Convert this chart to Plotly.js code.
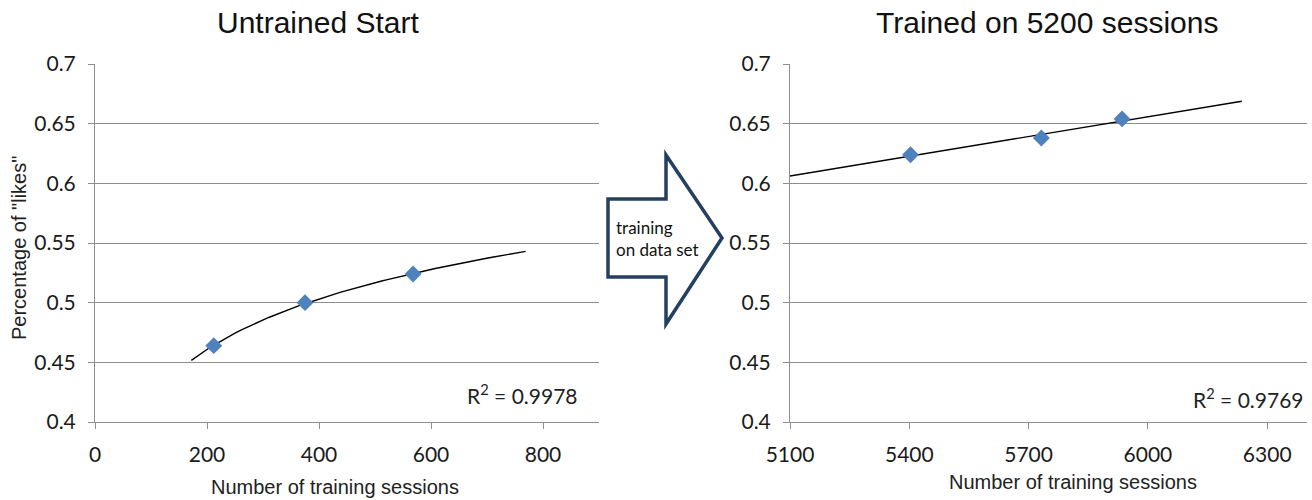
<!DOCTYPE html>
<html>
<head>
<meta charset="utf-8">
<script src="https://cdn.plot.ly/plotly-3.0.1.min.js"></script>
<style>html,body{margin:0;padding:0;background:#fff;}#chart{width:1312px;height:500px;}</style>
</head>
<body>
<div id="chart"></div>
<script>
// ---- data ----
const untrainedSessions = [212, 375, 568];
const untrainedLikes = [0.464, 0.500, 0.524];
const untrainedTrendRange = [172, 769];
const untrainedR2 = "0.9978";

const trainedSessions = [5403, 5732, 5935];
const trainedLikes = [0.624, 0.638, 0.654];
const trainedTrendRange = [5100, 6236];
const trainedR2 = "0.9769";

const yTickVals = [0.4, 0.45, 0.5, 0.55, 0.6, 0.65, 0.7];
const yTickText = ["0.4", "0.45", "0.5", "0.55", "0.6", "0.65", "0.7"];
const xTickValsLeft = [0, 200, 400, 600, 800];
const xTickValsRight = [5100, 5400, 5700, 6000, 6300];

const leftTitle = "Untrained Start";
const rightTitle = "Trained on 5200 sessions";
const xTitle = "Number of training sessions";
const yTitle = "Percentage of \"likes\"";
const arrowText = "training<br>on data set";

// ---- regressions (Excel-style trendlines) ----
function fit(xs, ys) {
  const n = xs.length;
  const mx = xs.reduce((a, b) => a + b, 0) / n;
  const my = ys.reduce((a, b) => a + b, 0) / n;
  let sxx = 0, sxy = 0;
  for (let i = 0; i < n; i++) { sxx += (xs[i] - mx) ** 2; sxy += (xs[i] - mx) * (ys[i] - my); }
  const m = sxy / sxx;
  return { m: m, b: my - m * mx };
}
const logFit = fit(untrainedSessions.map(Math.log), untrainedLikes);
const linFit = fit(trainedSessions, trainedLikes);

const trendLX = [], trendLY = [];
for (let i = 0; i <= 60; i++) {
  const x = untrainedTrendRange[0] + (untrainedTrendRange[1] - untrainedTrendRange[0]) * i / 60;
  trendLX.push(x); trendLY.push(logFit.m * Math.log(x) + logFit.b);
}
const trendRX = trainedTrendRange.slice();
const trendRY = trendRX.map(x => linFit.m * x + linFit.b);

const W = 1312, H = 500;
const px = v => v / W;
const py = v => 1 - v / H;

const markerStyle = { symbol: 'diamond', size: 13, color: '#4F81BD' };
const traces = [
  { x: trendLX, y: trendLY, mode: 'lines', line: { color: '#000', width: 1.4 }, xaxis: 'x', yaxis: 'y', hoverinfo: 'skip' },
  { x: untrainedSessions, y: untrainedLikes, mode: 'markers', marker: markerStyle, xaxis: 'x', yaxis: 'y' },
  { x: trendRX, y: trendRY, mode: 'lines', line: { color: '#000', width: 1.4 }, xaxis: 'x2', yaxis: 'y2', hoverinfo: 'skip' },
  { x: trainedSessions, y: trainedLikes, mode: 'markers', marker: markerStyle, xaxis: 'x2', yaxis: 'y2' }
];

const gridC = '#8e8e8e';
const tickFont = { family: 'Lato, "Open Sans", sans-serif', size: 21, color: '#1a1a1a' };
function xAxis(domain, range, vals) {
  return { domain: domain, range: range, tickmode: 'array', tickvals: vals, ticktext: vals.map(String),
    showgrid: false, zeroline: false, showline: true, linecolor: gridC, linewidth: 1,
    ticks: 'outside', ticklen: 6, tickcolor: gridC, tickfont: tickFont, ticklabelstandoff: 8, automargin: false, fixedrange: true };
}
function yAxis(domain, anchor) {
  return { domain: domain, range: [0.4, 0.7], anchor: anchor, tickmode: 'array', tickvals: yTickVals, ticktext: yTickText,
    showgrid: true, gridcolor: gridC, gridwidth: 1, zeroline: false, showline: true, linecolor: gridC, linewidth: 1,
    ticks: 'outside', ticklen: 6, tickcolor: gridC, tickfont: tickFont, ticklabelstandoff: 8, automargin: false, fixedrange: true };
}

const yDom = [py(422), py(64)];
const titleFont = { family: '"Liberation Sans", Arial, sans-serif', size: 30, color: '#111' };
const axTitleFont = { family: '"Liberation Sans", Arial, sans-serif', size: 20, color: '#222' };
const rFont = { family: 'Lato, sans-serif', size: 21, color: '#222' };
const layout = {
  width: W, height: H,
  margin: { l: 0, r: 0, t: 0, b: 0 },
  paper_bgcolor: '#fff', plot_bgcolor: '#fff',
  showlegend: false,
  xaxis: Object.assign(xAxis([px(95), px(599)], [0, 900], xTickValsLeft), { anchor: 'y' }),
  yaxis: yAxis(yDom, 'x'),
  xaxis2: Object.assign(xAxis([px(790), px(1307)], [5100, 6400], xTickValsRight), { anchor: 'y2' }),
  yaxis2: yAxis(yDom, 'x2'),
  shapes: [
    { type: 'path', xref: 'paper', yref: 'paper',
      path: 'M ' + px(608) + ' ' + py(199) + ' L ' + px(666) + ' ' + py(199) + ' L ' + px(666) + ' ' + py(155) +
            ' L ' + px(722) + ' ' + py(238) + ' L ' + px(666) + ' ' + py(324) + ' L ' + px(666) + ' ' + py(277) +
            ' L ' + px(608) + ' ' + py(277) + ' Z',
      line: { color: '#243F60', width: 3.5 }, fillcolor: '#fff', layer: 'above' }
  ],
  annotations: [
    { text: leftTitle, xref: 'paper', yref: 'paper', x: px(318), y: py(22), showarrow: false, xanchor: 'center', yanchor: 'middle', font: titleFont },
    { text: rightTitle, xref: 'paper', yref: 'paper', x: px(1047), y: py(22), showarrow: false, xanchor: 'center', yanchor: 'middle', font: titleFont },
    { text: xTitle, xref: 'paper', yref: 'paper', x: px(335), y: py(487), showarrow: false, xanchor: 'center', yanchor: 'middle', font: axTitleFont },
    { text: xTitle, xref: 'paper', yref: 'paper', x: px(1073), y: py(482), showarrow: false, xanchor: 'center', yanchor: 'middle', font: axTitleFont },
    { text: yTitle, xref: 'paper', yref: 'paper', x: px(19), y: py(248), showarrow: false, xanchor: 'center', yanchor: 'middle', textangle: -90, font: axTitleFont },
    { text: 'R<sup>2</sup> = ' + untrainedR2, xref: 'paper', yref: 'paper', x: px(580), y: py(394), showarrow: false, xanchor: 'right', yanchor: 'middle', font: rFont },
    { text: 'R<sup>2</sup> = ' + trainedR2, xref: 'paper', yref: 'paper', x: px(1306), y: py(398), showarrow: false, xanchor: 'right', yanchor: 'middle', font: rFont },
    { text: arrowText, xref: 'paper', yref: 'paper', x: px(614), y: py(238), showarrow: false, xanchor: 'left', yanchor: 'middle', align: 'left',
      font: { family: 'Lato, sans-serif', size: 17, color: '#111' } }
  ]
};

Plotly.newPlot('chart', traces, layout, { staticPlot: true, displayModeBar: false });
</script>
</body>
</html>
